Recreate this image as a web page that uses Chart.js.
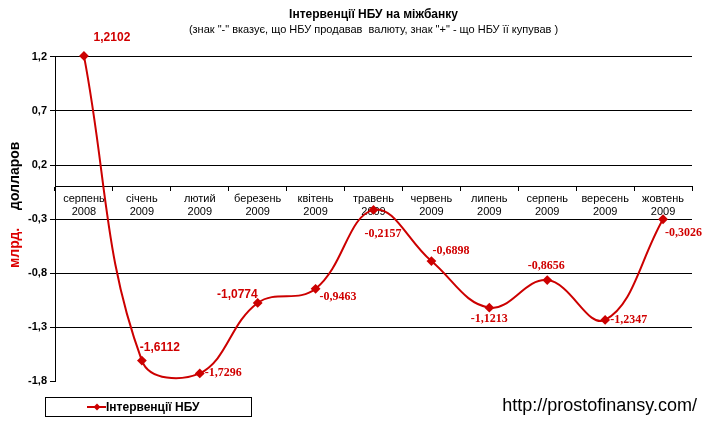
<!DOCTYPE html>
<html>
<head>
<meta charset="utf-8">
<script src="https://cdn.jsdelivr.net/npm/chart.js@4/dist/chart.umd.min.js"></script>
<style>
  html, body { margin: 0; padding: 0; background: #fff; }
  #wrap { width: 704px; height: 421px; position: relative; }
</style>
</head>
<body>
<div id="wrap"><canvas id="c" width="704" height="421"></canvas></div>
<script>
// ---- data ----
const monthNames = ['серпень', 'січень', 'лютий', 'березень', 'квітень', 'травень', 'червень', 'липень', 'серпень', 'вересень', 'жовтень'];
const years = ['2008', '2009', '2009', '2009', '2009', '2009', '2009', '2009', '2009', '2009', '2009'];
const interventions = [1.2102, -1.6112, -1.7296, -1.0774, -0.9463, -0.2157, -0.6898, -1.1213, -0.8656, -1.2347, -0.3026];
const yTickValues = [-1.8, -1.3, -0.8, -0.3, 0.2, 0.7, 1.2];
const seriesName = 'Інтервенції НБУ';
const titleText = 'Інтервенції НБУ на міжбанку';
const subtitleText = '(знак "-" вказує, що НБУ продавав  валюту, знак "+" - що НБУ її купував )';
const yTitleRed = 'млрд.';
const yTitleBlack = 'долларов';
const footerText = 'http://prostofinansy.com/';

// label placement per point: [dx, dy, align, fontFamily]
const SANS = 'Liberation Sans, Arial, sans-serif';
const SERIF = 'Liberation Serif, Times New Roman, serif';
const labelPlacement = [
  [28, -18, 'center', SANS],
  [-2, -13, 'left', SANS],
  [5, 0, 'left', SERIF],
  [0, -8, 'right', SANS],
  [4, 8, 'left', SERIF],
  [-9, 24, 'left', SERIF],
  [1, -10, 'left', SERIF],
  [0, 11, 'center', SERIF],
  [-1, -14, 'center', SERIF],
  [5, 0, 'left', SERIF],
  [2, 14, 'left', SERIF]
];

const labels = monthNames.map((m, i) => [m, years[i]]);
const RED = '#cc0000';
const fmt = (v, d) => v.toFixed(d).replace('.', ',');

const extras = {
  id: 'extras',
  afterDatasetsDraw(chart) {
    const ctx = chart.ctx;
    const meta = chart.getDatasetMeta(0);
    ctx.save();
    ctx.fillStyle = '#d00000';
    ctx.textBaseline = 'middle';
    meta.data.forEach((pt, i) => {
      const p = labelPlacement[i];
      ctx.font = 'bold 12px ' + p[3];
      ctx.textAlign = p[2];
      ctx.fillText(fmt(interventions[i], 4), pt.x + p[0], pt.y + p[1]);
    });
    ctx.restore();
  },
  afterDraw(chart) {
    const ctx = chart.ctx;
    ctx.save();
    // y-axis title (rotated)
    ctx.translate(15, 268);
    ctx.rotate(-Math.PI / 2);
    ctx.textBaseline = 'middle';
    ctx.textAlign = 'left';
    ctx.font = 'bold 14px Liberation Sans, Arial, sans-serif';
    ctx.fillStyle = '#dd0000';
    ctx.fillText(yTitleRed, 0, 0);
    const w = ctx.measureText(yTitleRed + '  ').width;
    ctx.fillStyle = '#000';
    ctx.fillText(yTitleBlack, w + 10, 0);
    ctx.restore();

    // legend box
    ctx.save();
    ctx.strokeStyle = '#000';
    ctx.lineWidth = 1;
    ctx.strokeRect(45.5, 397.5, 206, 19);
    ctx.strokeStyle = RED;
    ctx.lineWidth = 2;
    ctx.beginPath();
    ctx.moveTo(87, 407);
    ctx.lineTo(106, 407);
    ctx.stroke();
    ctx.fillStyle = RED;
    ctx.beginPath();
    ctx.moveTo(97, 403.5); ctx.lineTo(100.5, 407); ctx.lineTo(97, 410.5); ctx.lineTo(93.5, 407);
    ctx.closePath();
    ctx.fill();
    ctx.fillStyle = '#000';
    ctx.font = 'bold 12px Liberation Sans, Arial, sans-serif';
    ctx.textBaseline = 'middle';
    ctx.textAlign = 'left';
    ctx.fillText(seriesName, 106, 407.5);

    // footer url
    ctx.font = '18px Liberation Sans, Arial, sans-serif';
    ctx.textAlign = 'right';
    ctx.fillText(footerText, 697, 406);
    ctx.restore();
  }
};

new Chart(document.getElementById('c'), {
  type: 'line',
  data: {
    labels: labels,
    datasets: [{
      label: seriesName,
      data: interventions,
      borderColor: RED,
      backgroundColor: RED,
      borderWidth: 2,
      tension: 0.4,
      pointStyle: 'rectRot',
      pointRadius: 3.5,
      pointBackgroundColor: RED,
      pointBorderColor: RED,
      clip: false
    }]
  },
  options: {
    responsive: false,
    animation: false,
    devicePixelRatio: 1,
    layout: { padding: { left: 0, right: 12, top: 0, bottom: 40 } },
    plugins: {
      legend: { display: false },
      tooltip: { enabled: false },
      title: {
        display: true,
        text: titleText,
        fullSize: false,
        color: '#000',
        font: { family: 'Liberation Sans, Arial, sans-serif', size: 12, weight: 'bold' },
        padding: { top: 7, bottom: 2 }
      },
      subtitle: {
        display: true,
        text: subtitleText,
        fullSize: false,
        color: '#000',
        font: { family: 'Liberation Sans, Arial, sans-serif', size: 11, weight: 'normal' },
        padding: { top: 0, bottom: 20.4 }
      }
    },
    scales: {
      x: {
        type: 'category',
        position: { y: 0 },
        offset: true,
        grid: { offset: true, drawOnChartArea: false, color: '#000', tickLength: 4, lineWidth: 1 },
        border: { display: true, color: '#000', width: 1 },
        ticks: {
          color: '#000',
          padding: 2,
          maxRotation: 0,
          autoSkip: false,
          font: { family: 'Liberation Sans, Arial, sans-serif', size: 11 }
        }
      },
      y: {
        min: -1.8,
        max: 1.2,
        afterBuildTicks(scale) { scale.ticks = yTickValues.map(v => ({ value: v })); },
        afterFit(scale) { scale.width = 55; },
        grid: {
          color: (c) => (c.tick && Math.abs(c.tick.value + 1.8) < 1e-9) ? 'rgba(0,0,0,0)' : '#000',
          tickColor: '#000',
          tickLength: 5,
          lineWidth: 1
        },
        border: { display: true, color: '#000', width: 1 },
        ticks: {
          color: '#000',
          padding: 3,
          font: { family: 'Liberation Sans, Arial, sans-serif', size: 11, weight: 'bold' },
          callback: (v) => fmt(v, 1)
        }
      }
    }
  },
  plugins: [extras]
});
</script>
</body>
</html>
